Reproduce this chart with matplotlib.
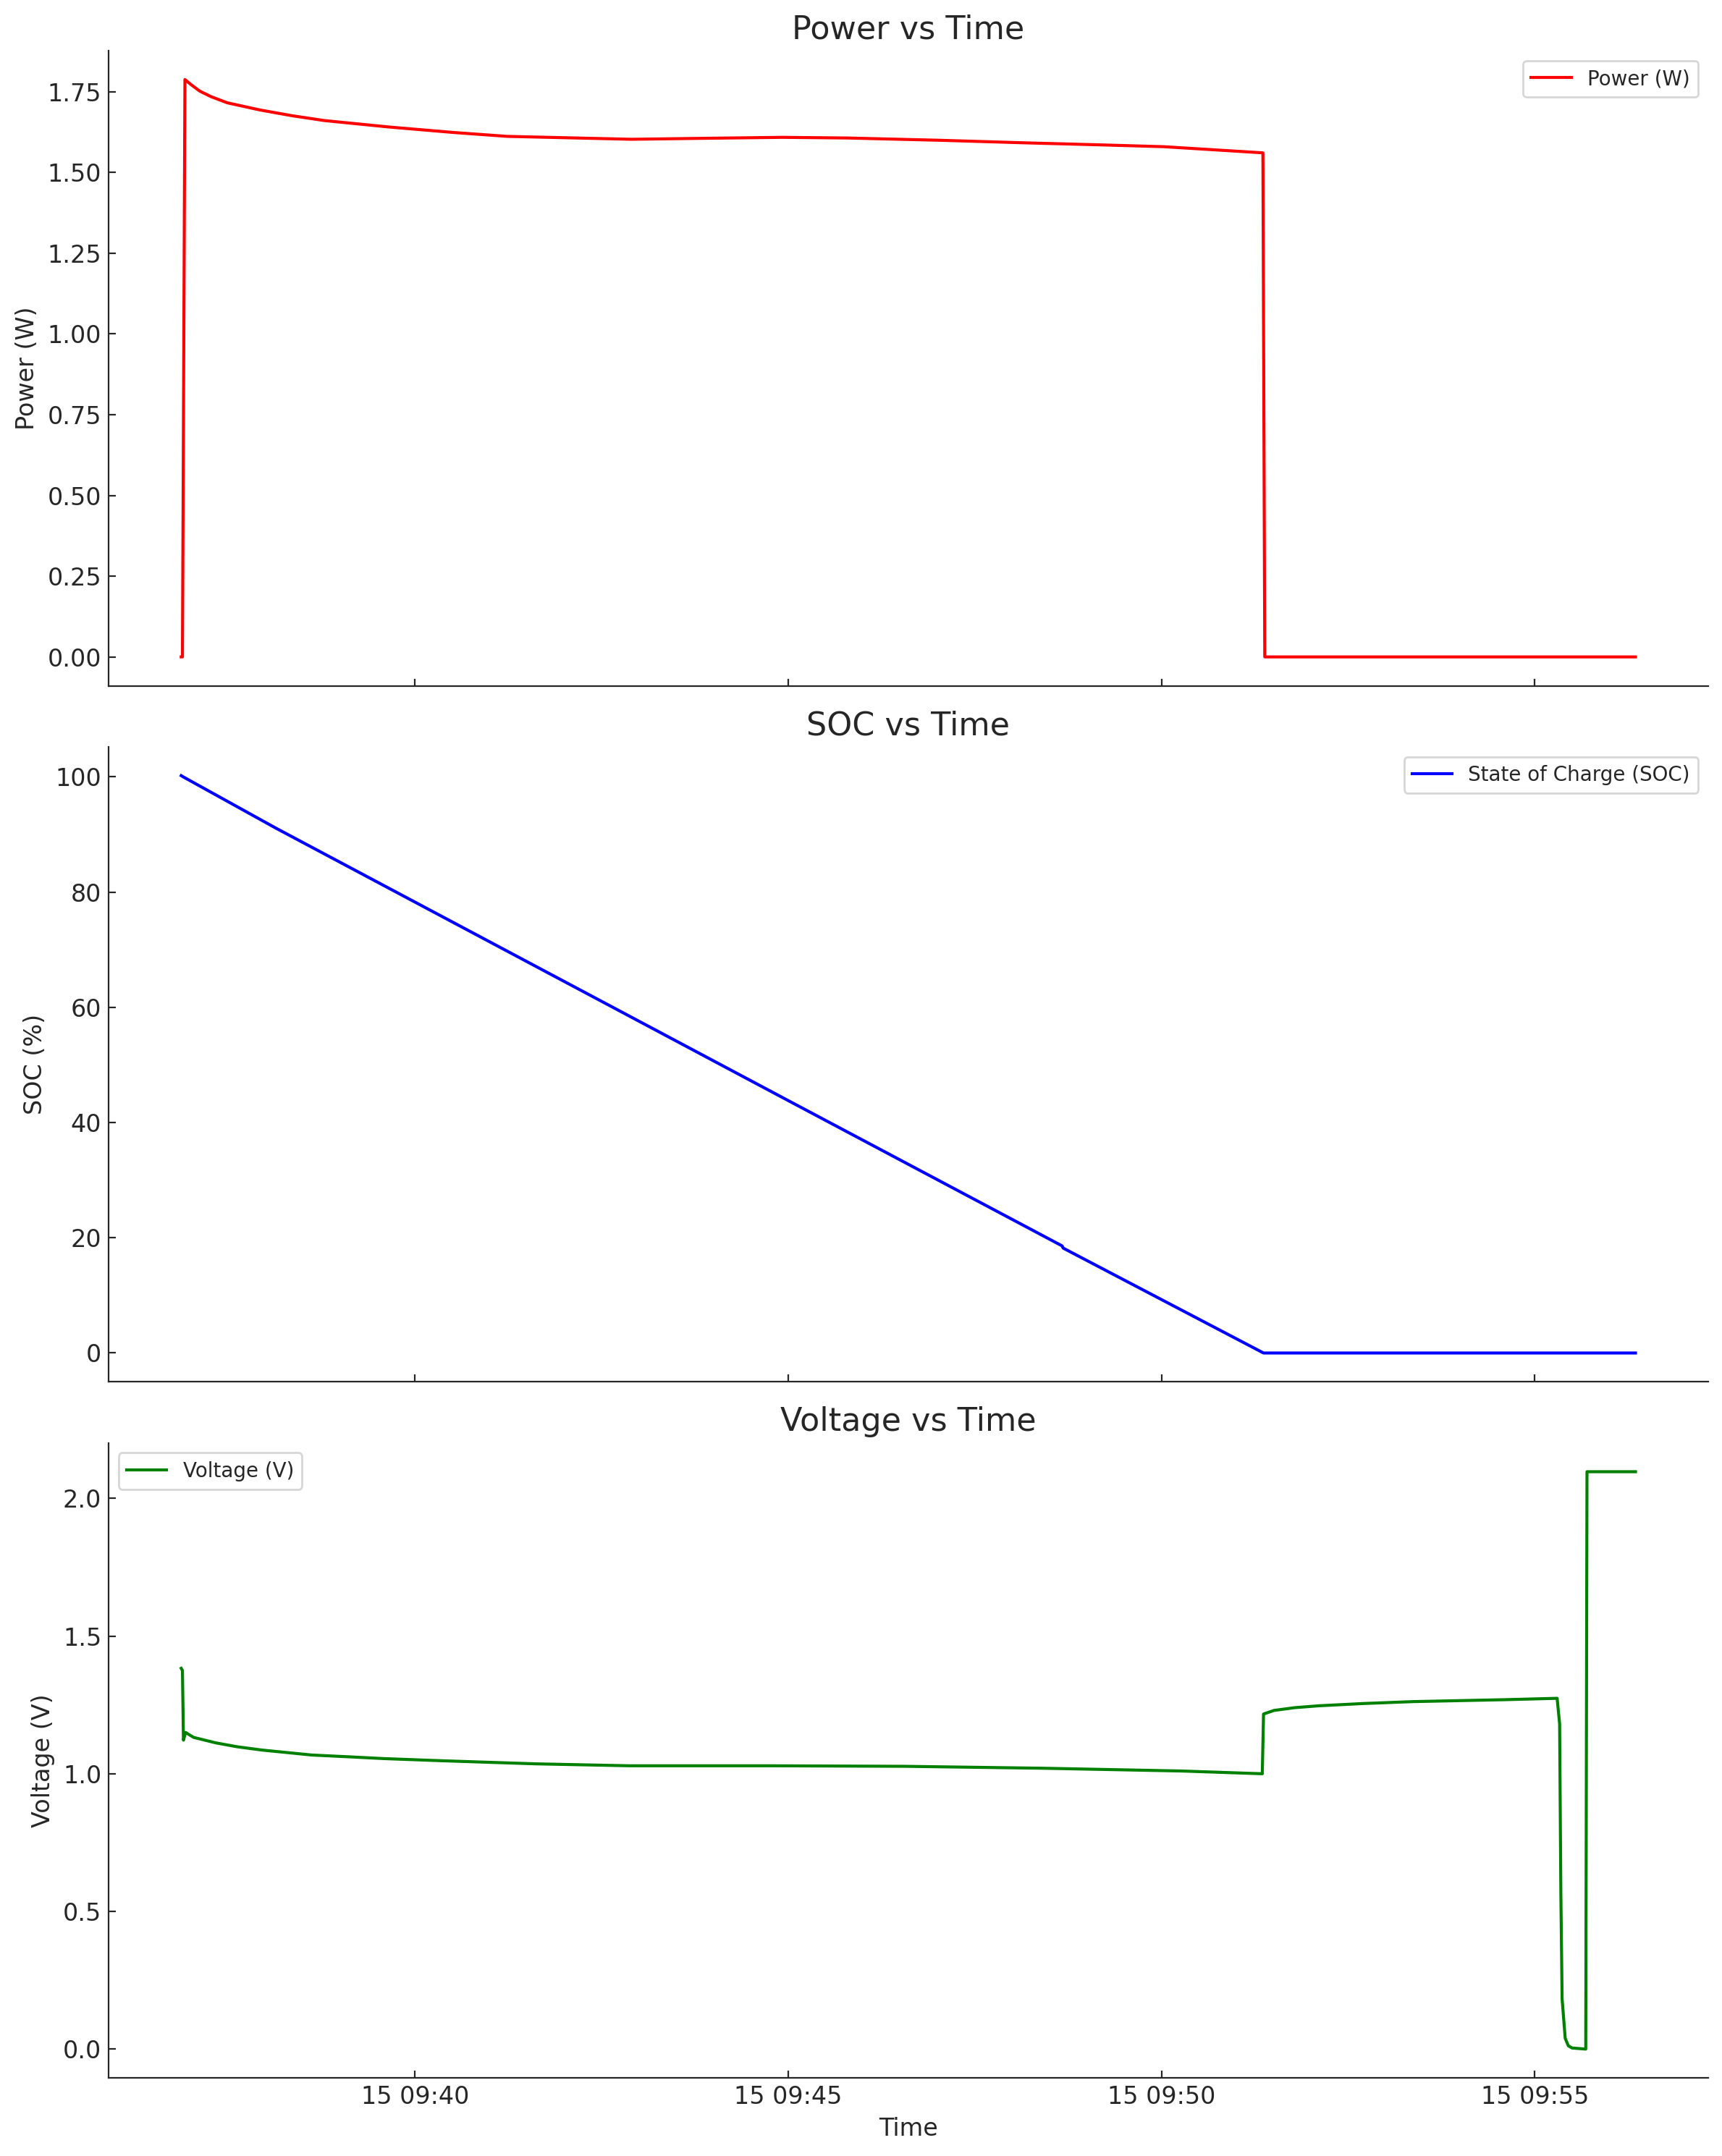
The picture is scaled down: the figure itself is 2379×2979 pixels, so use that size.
import numpy as np
import matplotlib
matplotlib.use("Agg")
import matplotlib.pyplot as plt
import matplotlib.dates as mdates

# start of the log, seconds are counted from here
start = np.datetime64("2024-01-15T09:36:52")

# power (W)
power_t = [0, 1, 3, 8, 15, 24, 37, 63, 89, 115, 167, 219, 262, 362, 420, 483, 535,
           609, 678, 736, 790, 869.5, 871, 1169]
power_w = [0, 0, 1.788, 1.772, 1.752, 1.735, 1.716, 1.694, 1.676, 1.661, 1.641,
           1.624, 1.612, 1.603, 1.606, 1.609, 1.607, 1.600, 1.592, 1.586, 1.580,
           1.561, 0, 0]

# state of charge (%)
soc_t = [0, 1.5, 76, 488, 708, 709, 870, 1169]
soc_v = [100.2, 100.0, 91.1, 43.8, 18.6, 18.2, 0, 0]

# voltage (V)
volt_t = [0, 1, 1.8, 3.5, 10, 28, 45, 65, 105, 137, 163, 211, 285, 360, 471, 582,
          693, 804, 869, 870, 878.5, 895, 915, 950, 990, 1064, 1106, 1108, 1109,
          1110, 1112.5, 1115, 1118, 1129, 1130, 1169]
volt_v = [1.383, 1.375, 1.122, 1.150, 1.132, 1.112, 1.098, 1.086, 1.068, 1.061,
          1.055, 1.047, 1.036, 1.029, 1.029, 1.027, 1.020, 1.010, 1.000, 1.217,
          1.230, 1.240, 1.247, 1.255, 1.262, 1.269, 1.274, 1.181, 0.562, 0.182,
          0.039, 0.012, 0.004, 0.0, 2.097, 2.097]


def to_time(sec):
    return start + (np.array(sec) * 1000).astype("timedelta64[ms]")


plt.rcParams["font.family"] = "DejaVu Sans"
plt.rcParams["text.color"] = "#262626"
plt.rcParams["axes.labelcolor"] = "#262626"
plt.rcParams["xtick.color"] = "#262626"
plt.rcParams["ytick.color"] = "#262626"
plt.rcParams["axes.edgecolor"] = "#262626"
plt.rcParams["xtick.direction"] = "in"
plt.rcParams["ytick.direction"] = "in"

fig, axes = plt.subplots(3, 1, sharex=True, figsize=(11.895, 14.895), dpi=200)
fig.subplots_adjust(left=0.063, right=0.992, top=0.9765, bottom=0.0362, hspace=0.096)

series = [
    (power_t, power_w, "red", "Power (W)", "Power vs Time", "Power (W)", "upper right"),
    (soc_t, soc_v, "blue", "State of Charge (SOC)", "SOC vs Time", "SOC (%)", "upper right"),
    (volt_t, volt_v, "green", "Voltage (V)", "Voltage vs Time", "Voltage (V)", "upper left"),
]

for ax, (t, v, col, lab, title, ylab, loc) in zip(axes, series):
    ax.plot(to_time(t), v, color=col, linewidth=1.5, label=lab)
    ax.set_title(title, fontsize=16)
    ax.set_ylabel(ylab, fontsize=12)
    ax.tick_params(labelsize=12)
    ax.spines["top"].set_visible(False)
    ax.spines["right"].set_visible(False)
    ax.legend(loc=loc, fontsize=10)

axes[0].set_yticks([0, 0.25, 0.5, 0.75, 1.0, 1.25, 1.5, 1.75])
axes[2].set_yticks([0, 0.5, 1.0, 1.5, 2.0])
axes[2].xaxis.set_major_locator(mdates.MinuteLocator(byminute=range(0, 60, 5)))
axes[2].xaxis.set_major_formatter(mdates.DateFormatter("%d %H:%M"))
axes[2].set_xlabel("Time", fontsize=12)

plt.savefig("out.png", dpi=200)
